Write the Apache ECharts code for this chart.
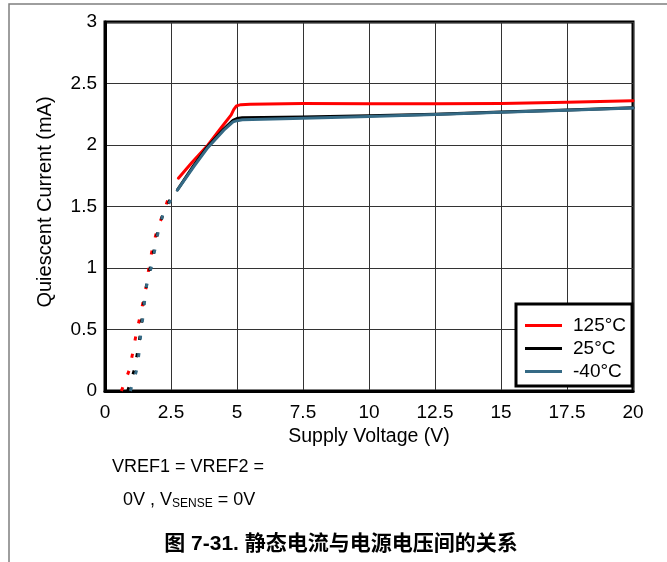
<!DOCTYPE html>
<html>
<head>
<meta charset="utf-8">
<script src="https://cdn.jsdelivr.net/npm/echarts@6/dist/echarts.min.js"></script>
<style>
html,body{margin:0;padding:0;background:#fff;}
#chart{width:667px;height:562px;}
</style>
</head>
<body>
<div id="chart"></div>
<script>
// ---- data (Supply Voltage V, Quiescent Current mA) ----
var seriesNames = ['125°C', '25°C', '-40°C'];
var seriesColors = ['#ff0000', '#000000', '#356a85'];

// low-voltage (dotted) part
var dot125 = [[0.62,0],[0.92,0.17],[1.05,0.31],[1.17,0.45],[1.31,0.59],[1.45,0.73],[1.59,0.88],[1.67,1.02],[1.79,1.15],[1.96,1.30],[2.20,1.44],[2.42,1.58]];
var dot25  = [[0.86,0],[1.11,0.17],[1.23,0.31],[1.33,0.45],[1.40,0.59],[1.48,0.73],[1.59,0.88],[1.73,1.02],[1.86,1.15],[2.00,1.30],[2.20,1.44],[2.52,1.58]];
var dotM40 = [[0.96,0],[1.20,0.17],[1.29,0.31],[1.35,0.45],[1.43,0.59],[1.50,0.73],[1.59,0.88],[1.77,1.02],[1.89,1.15],[2.02,1.30],[2.20,1.44],[2.56,1.58]];

// operating (solid) part
var solid125 = [[2.78,1.73],[3.30,1.86],[3.90,2.00],[4.40,2.14],[4.78,2.245],[4.88,2.29],[4.98,2.318],[5.15,2.328],[5.50,2.332],[7.5,2.337],[10,2.336],[12.5,2.335],[15,2.337],[17.5,2.347],[20,2.36]];
var solid25  = [[2.74,1.634],[3.35,1.83],[3.90,1.99],[4.50,2.13],[4.85,2.20],[5.00,2.215],[5.20,2.222],[7.5,2.228],[10,2.238],[12.5,2.25],[15,2.268],[17.5,2.285],[20,2.303]];
var solidM40 = [[2.74,1.634],[3.35,1.82],[3.90,1.98],[4.50,2.12],[4.85,2.188],[5.00,2.198],[5.20,2.205],[7.5,2.218],[10,2.232],[12.5,2.248],[15,2.266],[17.5,2.283],[20,2.301]];

var xTickLabels = ['0','2.5','5','7.5','10','12.5','15','17.5','20'];
var yTickLabels = ['0','0.5','1','1.5','2','2.5','3'];

var xAxisTitle = 'Supply Voltage (V)';
var yAxisTitle = 'Quiescent Current (mA)';
var note1 = 'VREF1 = VREF2 =';
var note2a = '0V , V';
var note2sub = 'SENSE';
var note2b = ' = 0V';
var caption = '图 7-31. 静态电流与电源电压间的关系';

var FONT = '"Liberation Sans", Arial, "Noto Sans CJK SC", sans-serif';

var dotData = [dot125, dot25, dotM40];
var solidData = [solid125, solid25, solidM40];

var series = [];
for (var i = 0; i < 3; i++) {
  series.push({
    name: seriesNames[i], type: 'line', data: solidData[i],
    showSymbol: false, symbol: 'none', z: 3 + i,
    itemStyle: {color: seriesColors[i]},
    lineStyle: {color: seriesColors[i], width: 3, join: 'round', cap: 'round'}
  });
}
for (var j = 0; j < 3; j++) {
  series.push({
    name: seriesNames[j], type: 'line', data: dotData[j],
    showSymbol: false, symbol: 'none', z: 3 + j,
    itemStyle: {color: seriesColors[j]},
    lineStyle: {color: seriesColors[j], width: 3, type: [4, 13.5], cap: 'butt'}
  });
}

var chart = echarts.init(document.getElementById('chart'), null, {renderer: 'canvas'});
chart.setOption({
  animation: false,
  backgroundColor: '#fff',
  textStyle: {fontFamily: FONT},
  grid: {left: 105, right: 34, top: 22, bottom: 171, show: true, borderColor: '#000', borderWidth: 3, backgroundColor: 'transparent'},
  xAxis: {
    type: 'value', min: 0, max: 20, interval: 2.5,
    name: xAxisTitle, nameLocation: 'middle', nameGap: 33,
    nameTextStyle: {fontSize: 19.5, color: '#000', fontFamily: FONT},
    axisLine: {show: true, lineStyle: {color: '#000', width: 3}},
    axisTick: {show: false},
    axisLabel: {fontSize: 19, color: '#000', margin: 12, fontFamily: FONT,
      formatter: function (v) { return xTickLabels[Math.round(v / 2.5)]; }},
    splitLine: {show: true, lineStyle: {color: '#333', width: 1}}
  },
  yAxis: {
    type: 'value', min: 0, max: 3, interval: 0.5,
    name: yAxisTitle, nameLocation: 'middle', nameGap: 50,
    nameTextStyle: {fontSize: 20, color: '#000', fontFamily: FONT, padding: [0, 0, 0, 9]},
    axisLine: {show: true, lineStyle: {color: '#000', width: 3}},
    axisTick: {show: false},
    axisLabel: {fontSize: 19, color: '#000', margin: 8, fontFamily: FONT,
      formatter: function (v) { return yTickLabels[Math.round(v / 0.5)]; }},
    splitLine: {show: true, lineStyle: {color: '#333', width: 1}}
  },
  legend: {
    orient: 'vertical', left: 516, top: 304,
    padding: [12, 6, 5, 9], itemGap: 4, itemWidth: 37, itemHeight: 3,
    icon: 'rect', borderColor: '#000', borderWidth: 3, backgroundColor: '#fff',
    selectedMode: false,
    textStyle: {fontSize: 19, color: '#000', lineHeight: 18, fontFamily: FONT, padding: [0, 0, 0, 6]},
    data: seriesNames
  },
  graphic: [
    {type: 'polyline', silent: true, shape: {points: [[9, 562], [9, 4], [667, 4]]},
     style: {stroke: '#7f7f7f', lineWidth: 1.5, fill: null}},
    {type: 'text', left: 112, top: 458, silent: true,
     style: {text: note1, font: '18px ' + FONT, fill: '#000'}},
    {type: 'text', left: 123, top: 488, silent: true,
     style: {text: '{a|' + note2a + '}{s|' + note2sub + '}{a|' + note2b + '}', fill: '#000',
       rich: {
         a: {fontSize: 18, lineHeight: 20, fontFamily: FONT, fill: '#000', verticalAlign: 'middle'},
         s: {fontSize: 12, lineHeight: 12, fontFamily: FONT, fill: '#000', padding: [10, 0, 0, 0], verticalAlign: 'bottom'}
       }}},
    {type: 'text', x: 341, y: 544, silent: true,
     style: {text: caption, font: 'bold 21px ' + FONT, fill: '#000', align: 'center', verticalAlign: 'middle'}}
  ],
  series: series
});
</script>
</body>
</html>
